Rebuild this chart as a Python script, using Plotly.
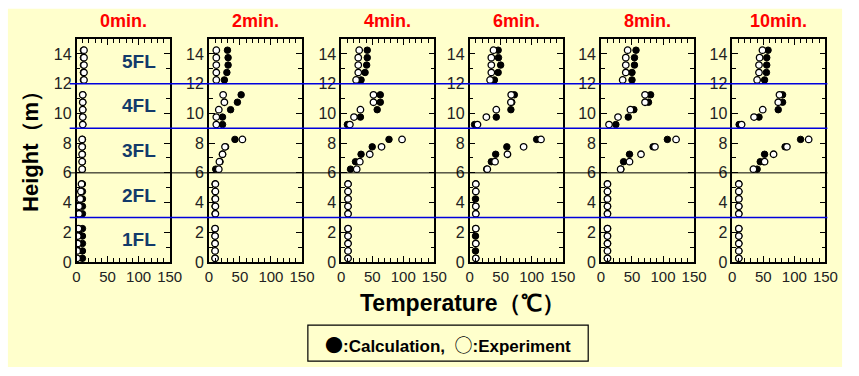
import plotly.graph_objects as go

# ---------------- data ----------------
heights = [0.25, 0.75, 1.25, 1.75, 2.25,
           3.25, 3.75, 4.25, 4.75, 5.25,
           6.25, 6.75, 7.25, 7.75, 8.25,
           9.25, 9.75, 10.25, 10.75, 11.25,
           12.25, 12.75, 13.25, 13.75, 14.25]

panel_titles = ["0min.", "2min.", "4min.", "6min.", "8min.", "10min."]

calc_0 = [9.5] * 5 + [9.5] * 5 + [9.5] * 5 + [10] * 5 + [11] * 5
exp_0 = [1, 1, 2, 2, 3, 4, 4, 6, 7, 8, 9, 9, 9, 9, 9, 10, 10, 10, 10, 10, 12, 12, 12, 12, 12]

calc_2 = [10] * 5 + [10] * 5 + [11, 18, 22, 27, 42] + [22, 22, 35, 46, 52] + [25, 29, 31, 31, 30]
exp_2 = [10] * 5 + [10.5] * 5 + [16, 17, 22, 26, 54] + [12, 12, 16, 25, 23] + [12] * 5

calc_4 = [11] * 5 + [11] * 5 + [15, 23, 32, 50, 77] + [10, 31, 58, 63, 63] + [32, 38.5, 41, 42, 42]
exp_4 = [11] * 5 + [11] * 5 + [25, 30, 46, 65, 98] + [14, 20.6, 31, 52, 52] + [24, 27.5, 27.5, 27.5, 29]

calc_6 = [10, 9.5, 10, 9.5, 10] + [10, 10, 9.5, 10, 10] + [27.5, 35, 42, 60, 108] + [8, 43, 66.5, 68, 72] + [40, 46, 50, 46.5, 46]
exp_6 = [10, None, 10, None, 10] + [10, 10, None, 10, 10] + [28.5, 41, 61, 87, 115] + [12.7, 27, 43, 66.5, 67] + [33, 35, 35, 35, 38.5]

calc_8 = [10.5] * 5 + [10.5] * 5 + [32, 36.5, 46, 84, 107] + [24, 44, 53, 76.6, 80] + [50, 50, 54, 54, 56.5]
exp_8 = [10.5] * 5 + [10.5] * 5 + [31.7, 46, 64.5, 87, 121] + [13, 27.5, 47.5, 71, 71] + [35, 40, 40, 40, 43]

calc_10 = [10.5] * 5 + [10.5] * 5 + [40, 45, 52, 85, 110] + [11, 43, 74, 81, 81] + [52, 55, 55.5, 55.5, 57.6]
exp_10 = [10.5] * 5 + [10.5] * 5 + [34, 52, 66.5, 88, 123] + [15, 35, 49, 74, 76] + [40, 43, 43, 44, 48.6]

calc_series = [calc_0, calc_2, calc_4, calc_6, calc_8, calc_10]
exp_series = [exp_0, exp_2, exp_4, exp_6, exp_8, exp_10]

floor_labels = ["1FL", "2FL", "3FL", "4FL", "5FL"]
floor_centers = [1.5, 4.5, 7.5, 10.5, 13.5]
floor_lines = [3, 6, 9, 12]
floor_line_colors = ["#0000DD", "#000000", "#0000DD", "#0000DD"]

x_ticks = [0, 50, 100, 150]
y_ticks = [0, 2, 4, 6, 8, 10, 12, 14]

# ---------------- layout helpers ----------------
W, H = 859, 376
BG = "#FFFFCC"
panel_left = [74, 209, 344, 475, 609, 743]
panel_w = 95
plot_top, plot_bottom = 40, 268.5
ydom = [(H - plot_bottom) / H, (H - plot_top) / H]

fig = go.Figure()
TICKFONT = dict(family="Liberation Sans, Arial, sans-serif", size=15, color="#222222")
TITLEFONT = "Liberation Sans Narrow, Arial Narrow, Liberation Sans, Arial, sans-serif"
CJK = "Noto Sans CJK JP"


def px_x(v):
    return v / W


def px_y(v):
    return 1 - v / H


for i in range(6):
    xa = "x" if i == 0 else f"x{i+1}"
    ya = "y" if i == 0 else f"y{i+1}"
    fig.add_trace(go.Scatter(
        x=calc_series[i], y=heights, xaxis=xa, yaxis=ya, mode="markers",
        marker=dict(size=6.5, color="black", line=dict(color="black", width=1)),
        showlegend=False, hoverinfo="skip"))
    fig.add_trace(go.Scatter(
        x=exp_series[i], y=heights, xaxis=xa, yaxis=ya, mode="markers",
        marker=dict(size=6.5, color="white", line=dict(color="black", width=1.3)),
        showlegend=False, hoverinfo="skip"))

    dom = [panel_left[i] / W, (panel_left[i] + panel_w) / W]
    xkey = "xaxis" if i == 0 else f"xaxis{i+1}"
    ykey = "yaxis" if i == 0 else f"yaxis{i+1}"
    fig.layout[xkey] = dict(
        domain=dom, range=[0, 150], anchor=ya, tickvals=x_ticks,
        ticks="inside", ticklen=6, tickwidth=1, tickcolor="black",
        mirror="allticks", showline=True, linecolor="black", linewidth=1.5,
        showgrid=False, zeroline=False, tickfont=TICKFONT, ticklabelstandoff=0,
        minor=dict(dtick=10, ticks="inside", ticklen=4, tickcolor="black", showgrid=False),
        fixedrange=True)
    fig.layout[ykey] = dict(
        domain=ydom, range=[0, 15], anchor=xa, tickvals=y_ticks,
        ticks="inside", ticklen=6, tickwidth=1, tickcolor="black",
        mirror="allticks", showline=True, linecolor="black", linewidth=1.5,
        showgrid=False, zeroline=False, tickfont=dict(TICKFONT, size=16),
        minor=dict(dtick=1, ticks="inside", ticklen=4, tickcolor="black", showgrid=False),
        fixedrange=True)

    # panel title
    fig.add_annotation(
        x=px_x(panel_left[i] + panel_w / 2), y=px_y(22), xref="paper", yref="paper",
        xanchor="center", yanchor="middle",
        text=f"<b>{panel_titles[i]}</b>", showarrow=False,
        font=dict(family=TITLEFONT, size=18, color="#FF0000"))

# floor labels in the first panel
for lab, yc in zip(floor_labels, floor_centers):
    fig.add_annotation(x=101, y=yc, xref="x", yref="y", text=f"<b>{lab}</b>",
                       xanchor="center", yanchor="middle", showarrow=False,
                       font=dict(family=TITLEFONT, size=19, color="#123A6A"))

# floor separation lines across all panels
for yv, col in zip(floor_lines, floor_line_colors):
    fig.add_shape(type="line", xref="paper", yref="y",
                  x0=px_x(67), x1=px_x(840), y0=yv, y1=yv,
                  line=dict(color=col, width=1.5 if col != "#000000" else 1))

# yellow background panel
fig.add_shape(type="rect", xref="paper", yref="paper", x0=px_x(4), x1=px_x(855),
              y0=0, y1=px_y(9), fillcolor=BG, line=dict(width=0), layer="below")

# axis titles
fig.add_annotation(x=px_x(27), y=px_y(149), xref="paper", yref="paper",
                   xanchor="center", yanchor="middle",
                   text="<b>Height（m）</b>", textangle=-90, showarrow=False,
                   font=dict(family=TITLEFONT, size=22, color="black"))
fig.add_annotation(x=px_x(468), y=px_y(310), xref="paper", yref="paper",
                   xanchor="center", yanchor="middle",
                   text="<b>Temperature（℃）</b>", showarrow=False,
                   font=dict(family=TITLEFONT, size=23, color="black"))

# legend box
fig.add_shape(type="rect", xref="paper", yref="paper",
              x0=px_x(310), x1=px_x(596), y0=px_y(370), y1=px_y(333),
              line=dict(color="black", width=1.2), fillcolor=BG)
legend_text = (f'<span style="font-family:{CJK}; font-size:18px">●</span>'
               '<b>:Calculation,  </b>'
               f'<span style="font-family:{CJK}; font-size:18px">○</span>'
               '<b>:Experiment</b>')
fig.add_annotation(x=px_x(453), y=px_y(352), xref="paper", yref="paper",
                   xanchor="center", yanchor="middle",
                   text=legend_text, showarrow=False,
                   font=dict(family=TITLEFONT, size=17, color="black"))

fig.update_layout(width=W, height=H, margin=dict(l=0, r=0, t=0, b=0),
                  paper_bgcolor="white", plot_bgcolor="rgba(0,0,0,0)",
                  showlegend=False)

fig.write_html("out.html", config={"displayModeBar": False})
